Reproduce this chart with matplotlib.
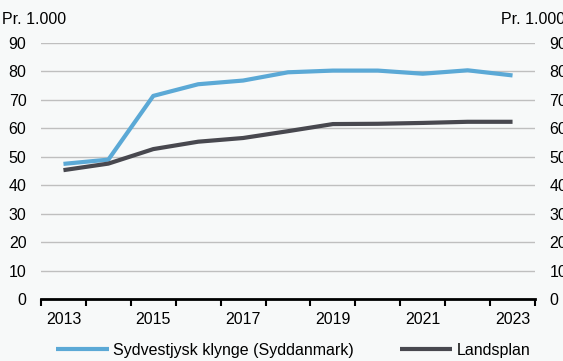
import matplotlib
matplotlib.use("Agg")
import matplotlib.pyplot as plt
import numpy as np

years = [2013, 2014, 2015, 2016, 2017, 2018, 2019, 2020, 2021, 2022, 2023]
sydvest = [47.5, 49.0, 71.4, 75.5, 76.8, 79.7, 80.3, 80.3, 79.2, 80.4, 78.6]
landsplan = [45.3, 47.6, 52.7, 55.3, 56.6, 59.0, 61.5, 61.6, 61.9, 62.3, 62.3]
yticks = [0, 10, 20, 30, 40, 50, 60, 70, 80, 90]
unit_label = "Pr. 1.000"
names = ["Sydvestjysk klynge (Syddanmark)", "Landsplan"]

plt.rcParams['font.family'] = ['Liberation Sans', 'DejaVu Sans']
fs = 11.5
bg = "#f7f9f9"
fig = plt.figure(figsize=(5.63, 3.61), dpi=100, facecolor=bg)
ax = fig.add_axes([41/563, 1-299/361, (535-41)/563, (299-43)/361], facecolor=bg)

x = np.arange(len(years))
l1, = ax.plot(x, sydvest, color="#5ba9d6", lw=3.0, solid_capstyle="butt", zorder=3)
l2, = ax.plot(x, landsplan, color="#48484f", lw=3.0, solid_capstyle="butt", zorder=3)

ax.set_xlim(-0.5, len(years)-0.5)
ax.set_ylim(0, 90)
ax.set_yticks(yticks)
ax.set_yticklabels([str(v) for v in yticks], fontsize=fs)
for v in yticks[1:]:
    ax.axhline(v, color="#bfbfbf", lw=1.0, zorder=1)
ax.tick_params(axis='y', length=0, pad=10.5, labelsize=fs, labelright=True, right=False)

ax.set_xticks(x[::2])
ax.set_xticklabels([str(y) for y in years[::2]], fontsize=fs)
ax.set_xticks(np.arange(-0.5, len(years), 1.0), minor=True)
ax.tick_params(axis='x', which='major', length=0, pad=9)
ax.tick_params(axis='x', which='minor', length=5, width=1.5, direction='out', color='black')

for s in ['top', 'left', 'right']:
    ax.spines[s].set_visible(False)
ax.spines['bottom'].set_linewidth(2)
ax.spines['bottom'].set_zorder(4)

fig.text(2/563, 1-19/361, unit_label, fontsize=fs, ha='left', va='center')
fig.text(501/563, 1-19/361, unit_label, fontsize=fs, ha='left', va='center')

leg = fig.legend([l1, l2], names, loc='center', bbox_to_anchor=(293/563, 1-350/361),
                 ncol=2, frameon=False, fontsize=fs, handlelength=3.3,
                 handletextpad=0.25, columnspacing=2.9, borderpad=0, borderaxespad=0)

fig.savefig("out.png", dpi=100, facecolor=bg)
